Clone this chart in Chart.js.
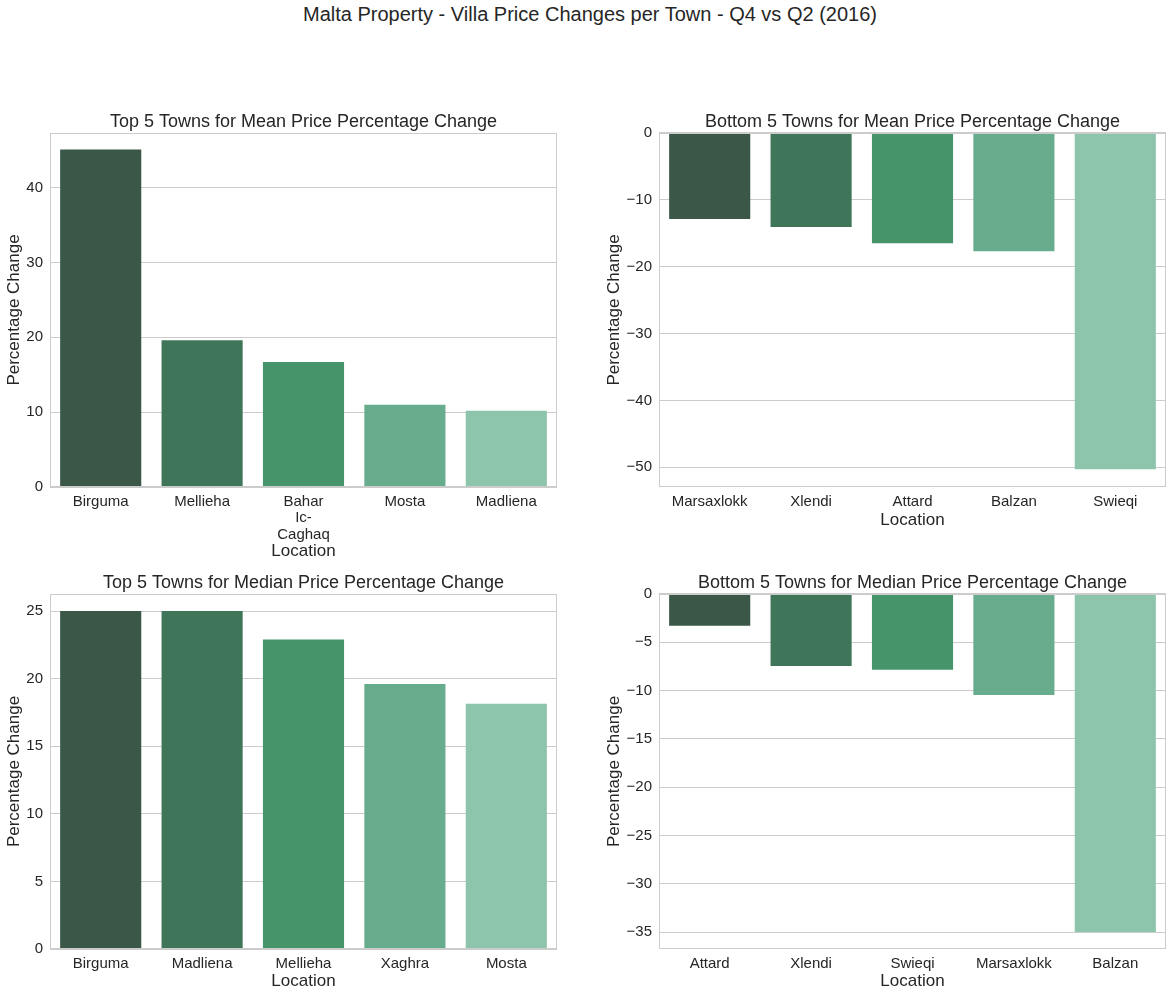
<!DOCTYPE html>
<html>
<head>
<meta charset="utf-8">
<script src="https://cdn.jsdelivr.net/npm/chart.js@4"></script>
<style>
body{margin:0;background:#fff;width:1173px;height:996px;position:relative;overflow:hidden;font-family:'Liberation Sans',Arial,sans-serif;}
#title{position:absolute;left:0;width:1180px;top:3px;text-align:center;font-size:20px;color:#262626;}
canvas{position:absolute;}
</style>
</head>
<body>
<div id="title">Malta Property - Villa Price Changes per Town - Q4 vs Q2 (2016)</div>
<canvas id="meanTop" width="557" height="452" style="left:0px;top:110px"></canvas>
<canvas id="meanBottom" width="566" height="421" style="left:600px;top:110px"></canvas>
<canvas id="medianTop" width="557" height="421" style="left:0px;top:571px"></canvas>
<canvas id="medianBottom" width="566" height="421" style="left:600px;top:571px"></canvas>
<script>
// data
const meanTopTowns = ['Birguma','Mellieha',['Bahar','Ic-','Caghaq'],'Mosta','Madliena'];
const meanTopValues = [45.1, 19.6, 16.7, 11.0, 10.2];

const meanBottomTowns = ['Marsaxlokk','Xlendi','Attard','Balzan','Swieqi'];
const meanBottomValues = [-12.85, -14.05, -16.5, -17.7, -50.3];

const medianTopTowns = ['Birguma','Madliena','Mellieha','Xaghra','Mosta'];
const medianTopValues = [25.0, 25.0, 22.9, 19.6, 18.15];

const medianBottomTowns = ['Attard','Xlendi','Swieqi','Marsaxlokk','Balzan'];
const medianBottomValues = [-3.3, -7.45, -7.85, -10.45, -35.0];

const palette = ['#3a5748','#3f7659','#46956a','#67ac8c','#8dc4ac'];

const font = "'Liberation Sans', Arial, sans-serif";
const textColor = '#262626';
const gridColor = '#cccccc';

// light grey box round the plot area, like the seaborn whitegrid spines
const frame = {
    id:'frame',
    afterDatasetsDraw(chart){
        const a = chart.chartArea;
        const c = chart.ctx;
        c.save();
        c.strokeStyle = gridColor;
        c.lineWidth = 1;
        c.strokeRect(Math.round(a.left)+0.5, Math.round(a.top)+0.5,
                     Math.round(a.right-a.left)-1, Math.round(a.bottom-a.top)-1);
        c.restore();
    }
};

function minus(v){
    return v < 0 ? '\u2212' + Math.abs(v) : '' + v;
}

function makeChart(id, title, labels, values, yMin, yMax, step, yWidth, xHeight){
    const ctx = document.getElementById(id).getContext('2d');
    return new Chart(ctx,{
        type:'bar',
        data:{
            labels:labels,
            datasets:[{
                data:values,
                backgroundColor:palette,
                borderWidth:0,
                barPercentage:0.8,
                categoryPercentage:1.0
            }]
        },
        options:{
            responsive:false,
            animation:false,
            layout:{padding:0},
            scales:{
                x:{
                    grid:{display:false,drawTicks:false},
                    border:{display:false},
                    ticks:{
                        color:textColor,
                        padding:7,
                        maxRotation:0,
                        autoSkip:false,
                        font:{family:font,size:15,lineHeight:1.08}
                    },
                    title:{
                        display:true,
                        text:'Location',
                        color:textColor,
                        padding:{top:0,bottom:0},
                        font:{family:font,size:17,lineHeight:1.2}
                    },
                    afterFit(scale){ scale.height = xHeight; }
                },
                y:{
                    min:yMin,
                    max:yMax,
                    grid:{color:gridColor,lineWidth:1,drawTicks:false},
                    border:{display:false},
                    ticks:{
                        stepSize:step,
                        includeBounds:false,
                        color:textColor,
                        padding:7,
                        font:{family:font,size:15},
                        callback:minus
                    },
                    title:{
                        display:true,
                        text:'Percentage Change',
                        color:textColor,
                        padding:{top:3.8,bottom:0},
                        font:{family:font,size:17,lineHeight:1.2}
                    },
                    afterFit(scale){ scale.width = yWidth; }
                }
            },
            plugins:{
                legend:{display:false},
                tooltip:{enabled:false},
                title:{
                    display:true,
                    fullSize:false,
                    text:title,
                    color:textColor,
                    padding:{top:1.2,bottom:0.2},
                    font:{family:font,size:18,weight:'normal',lineHeight:1.2}
                }
            }
        },
        plugins:[frame]
    });
}

makeChart('meanTop','Top 5 Towns for Mean Price Percentage Change',
          meanTopTowns, meanTopValues, 0, 47.3, 10, 50, 75);
makeChart('meanBottom','Bottom 5 Towns for Mean Price Percentage Change',
          meanBottomTowns, meanBottomValues, -52.95, 0, 10, 59, 44);
makeChart('medianTop','Top 5 Towns for Median Price Percentage Change',
          medianTopTowns, medianTopValues, 0, 26.26, 5, 50, 43);
makeChart('medianBottom','Bottom 5 Towns for Median Price Percentage Change',
          medianBottomTowns, medianBottomValues, -36.76, 0, 5, 59, 43);
</script>
</body>
</html>
